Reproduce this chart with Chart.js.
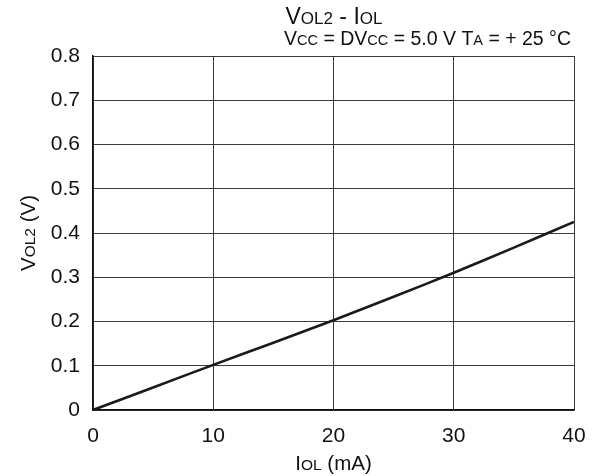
<!DOCTYPE html>
<html>
<head>
<meta charset="utf-8">
<script src="https://cdn.jsdelivr.net/npm/chart.js@4"></script>
<style>
  html, body { margin: 0; padding: 0; background: #fff; }
  #wrap { width: 594px; height: 476px; }
</style>
</head>
<body>
<div id="wrap"><canvas id="chart" width="594" height="476"></canvas></div>
<script>
// output low voltage vs. sink current
const currentMA = [0, 5, 10, 15, 20, 25, 30, 35, 40];
const vol2 = [0, 0.051, 0.102, 0.152, 0.203, 0.256, 0.31, 0.367, 0.425];
const xTicks = [0, 10, 20, 30, 40];
const yTicks = [0, 0.1, 0.2, 0.3, 0.4, 0.5, 0.6, 0.7, 0.8];

const FONT = "Liberation Sans, Arial, Helvetica, sans-serif";

// draw a row of text pieces with different sizes on one baseline
function drawRuns(ctx, runs, x, y, align) {
  let total = 0;
  runs.forEach(r => {
    ctx.font = r[1] + "px " + FONT;
    total += ctx.measureText(r[0]).width;
  });
  let cx = x;
  if (align === "center") cx = x - total / 2;
  if (align === "right") cx = x - total;
  ctx.textAlign = "left";
  ctx.textBaseline = "alphabetic";
  runs.forEach(r => {
    ctx.font = r[1] + "px " + FONT;
    ctx.fillText(r[0], cx, y);
    cx += ctx.measureText(r[0]).width;
  });
}

const labelsPlugin = {
  id: "labels",
  afterDraw(chart) {
    const ctx = chart.ctx;
    const a = chart.chartArea;
    ctx.save();
    ctx.fillStyle = "#111";
    drawRuns(ctx, [["V", 23], ["OL2", 17], [" - I", 23], ["OL", 17]], 334, 24, "center");
    drawRuns(ctx, [["V", 19.5], ["CC", 14.5], [" = DV", 19.5], ["CC", 14.5], [" = 5.0 V T", 19.5], ["A", 14.5], [" = + 25 \u00B0C", 19.5]], 571, 45, "right");
    drawRuns(ctx, [["I", 20.5], ["OL", 15.5], [" (mA)", 20.5]], (a.left + a.right) / 2, 470, "center");
    ctx.translate(35, (a.top + a.bottom) / 2);
    ctx.rotate(-Math.PI / 2);
    drawRuns(ctx, [["V", 20.5], ["OL2", 15.5], [" (V)", 20.5]], 0, 0, "center");
    ctx.restore();
  }
};

new Chart(document.getElementById("chart"), {
  type: "line",
  data: {
    datasets: [{
      data: currentMA.map((x, i) => ({ x: x, y: vol2[i] })),
      borderColor: "#1a1a1a",
      borderWidth: 2.6,
      pointRadius: 0,
      tension: 0.3,
      fill: false
    }]
  },
  options: {
    responsive: false,
    animation: false,
    layout: { padding: { top: 56, right: 20, left: 0, bottom: 0 } },
    plugins: { legend: { display: false }, tooltip: { enabled: false } },
    scales: {
      x: {
        type: "linear",
        min: 0, max: 40,
        afterFit: s => { s.height = 66; s.paddingLeft = 0; s.paddingRight = 0; },
        afterBuildTicks: s => { s.ticks = xTicks.map(v => ({ value: v })); },
        grid: { color: "#3a3a3a", lineWidth: 1, drawTicks: false },
        border: { color: "#111", width: 1.5 },
        ticks: { color: "#111", padding: 14, font: { family: FONT, size: 21 } }
      },
      y: {
        min: 0, max: 0.8,
        afterFit: s => { s.width = 93; s.paddingTop = 0; s.paddingBottom = 0; },
        afterBuildTicks: s => { s.ticks = yTicks.map(v => ({ value: v })); },
        grid: { color: "#3a3a3a", lineWidth: 1, drawTicks: false },
        border: { color: "#111", width: 1.5 },
        ticks: {
          color: "#111", padding: 13, font: { family: FONT, size: 21 },
          callback: v => v === 0 ? "0" : v.toFixed(1)
        }
      }
    }
  },
  plugins: [labelsPlugin]
});
</script>
</body>
</html>
